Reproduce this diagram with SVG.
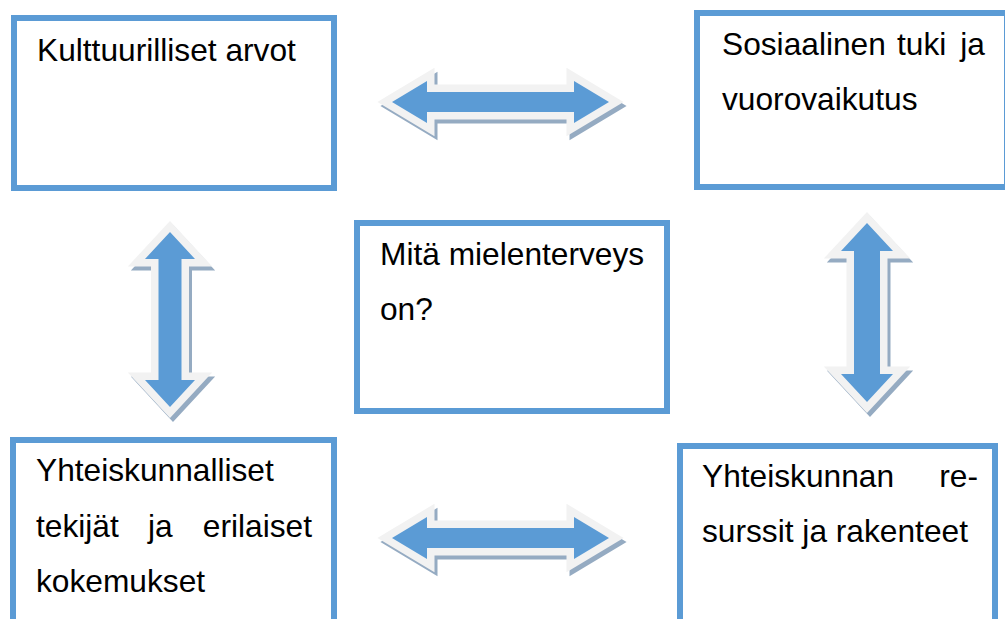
<svg xmlns="http://www.w3.org/2000/svg" width="1005" height="619" viewBox="0 0 1005 619">
<style>
.box{fill:#ffffff;stroke:#5B9BD5;stroke-width:6}
.t{font-family:"Liberation Sans",Arial,sans-serif;font-size:31.7px;fill:#000000}
.sh{fill:#95ABC2;stroke:#95ABC2;stroke-width:15;stroke-linejoin:miter}
.ar{fill:#5B9BD5;stroke:#F2F2F2;stroke-width:15;stroke-linejoin:miter;paint-order:stroke}
</style>
<defs>
<path id="harrow" d="M392,102 L427,81 L427,92 L574,92 L574,81 L609,102 L574,123 L574,112 L427,112 L427,123 Z"/>
<path id="varrowL" d="M170,232 L195,259 L181.5,259 L181.5,380 L195,380 L170,407 L145,380 L158.5,380 L158.5,259 L145,259 Z"/>
<path id="varrowR" d="M867,223 L893,251 L880,251 L880,374 L893,374 L867,402 L841,374 L854,374 L854,251 L841,251 Z"/>
</defs>
<rect width="1005" height="619" fill="#ffffff"/>
<g id="connectors">
<use href="#harrow" class="sh" transform="translate(3,4)"/>
<use href="#harrow" class="ar"/>
<use href="#harrow" class="sh" transform="translate(3,440)"/>
<use href="#harrow" class="ar" transform="translate(0,436)"/>
<use href="#varrowL" class="sh" transform="translate(3,4)"/>
<use href="#varrowL" class="ar"/>
<use href="#varrowR" class="sh" transform="translate(3,4)"/>
<use href="#varrowR" class="ar"/>
</g>
<g id="node-kulttuurilliset">
<rect class="box" x="14" y="18" width="320" height="170"/>
<text class="t" x="37" y="61">Kulttuurilliset arvot</text>
</g>
<g id="node-sosiaalinen">
<rect class="box" x="697" y="13" width="310" height="174"/>
<text class="t" y="55"><tspan x="722">Sosiaalinen</tspan><tspan x="897">tuki</tspan><tspan x="985" text-anchor="end">ja</tspan></text>
<text class="t" x="722" y="110">vuorovaikutus</text>
</g>
<g id="node-mielenterveys">
<rect class="box" x="357" y="223" width="310" height="188"/>
<text class="t" x="380" y="265">Mitä mielenterveys</text>
<text class="t" x="380" y="320">on?</text>
</g>
<g id="node-yhteiskunnalliset">
<rect class="box" x="13" y="440" width="321" height="200"/>
<text class="t" x="36" y="481">Yhteiskunnalliset</text>
<text class="t" y="537"><tspan x="36">tekijät</tspan><tspan x="148">ja</tspan><tspan x="312" text-anchor="end">erilaiset</tspan></text>
<text class="t" x="36" y="592">kokemukset</text>
</g>
<g id="node-yhteiskunnan">
<rect class="box" x="680" y="446" width="315" height="200"/>
<text class="t" y="487"><tspan x="702">Yhteiskunnan</tspan><tspan x="978" text-anchor="end">re-</tspan></text>
<text class="t" x="702" y="542">surssit ja rakenteet</text>
</g>
</svg>
